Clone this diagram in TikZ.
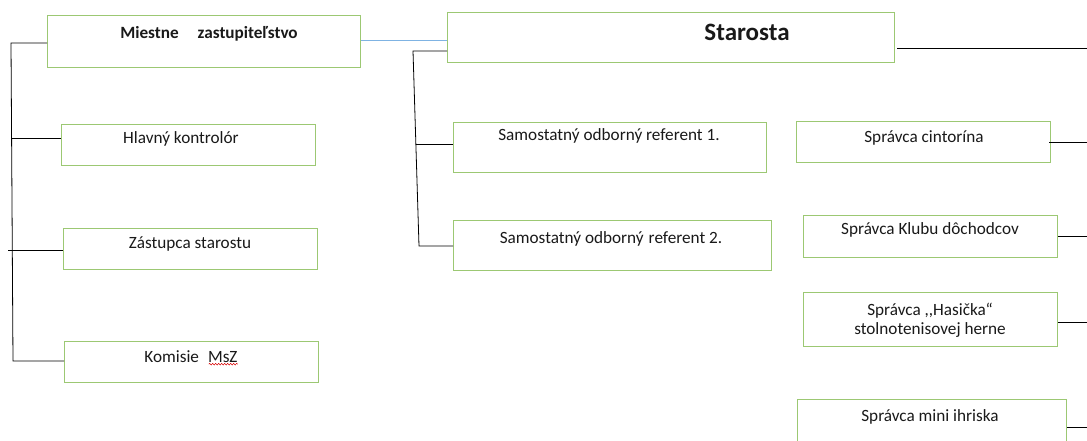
\documentclass[tikz,border=0pt]{standalone}
\usepackage{fontspec}
\setmainfont{Carlito}
\usetikzlibrary{decorations.pathmorphing}
\definecolor{boxgreen}{HTML}{9CC873}
\definecolor{linkblue}{HTML}{7FB3E3}
\begin{document}
\begin{tikzpicture}[x=1pt,y=-1pt,
  box/.style={draw=boxgreen,line width=1pt,anchor=north west,inner sep=0pt},
  lbl/.style={inner sep=0pt,font=\fontsize{17.2}{20}\selectfont,text=black!90},
  con/.style={draw=black,line width=0.8pt}]
\useasboundingbox (0,0) rectangle (1087,441);
% boxes
\node[box,minimum width=313pt,minimum height=52pt] (mz) at (47,15) {};
\node[box,minimum width=447pt,minimum height=50pt] (st) at (447,12) {};
\node[box,minimum width=254pt,minimum height=41pt] (hk) at (61,124) {};
\node[box,minimum width=254pt,minimum height=41pt] (zs) at (63,228) {};
\node[box,minimum width=254pt,minimum height=41pt] (km) at (64,341) {};
\node[box,minimum width=313pt,minimum height=50pt] (r1) at (453,122) {};
\node[box,minimum width=318pt,minimum height=50pt] (r2) at (453,220) {};
\node[box,minimum width=254pt,minimum height=41pt] (sc) at (796,121) {};
\node[box,minimum width=254pt,minimum height=42pt] (sk) at (803,215) {};
\node[box,minimum width=254pt,minimum height=54pt] (sh) at (803,292) {};
\node[box,minimum width=269pt,minimum height=70pt] (sm) at (797,399) {};
% texts
\node[lbl,font=\bfseries\fontsize{17.2}{20}\selectfont] (tmz) at (209,34) {Miestne\hspace{19pt}zastupiteľstvo};
\node[lbl,font=\bfseries\fontsize{25}{30}\selectfont] (tst) at (747,32) {Starosta};
\node[lbl] (thk) at (181,139) {Hlavný kontrolór};
\node[lbl] (tzs) at (190,244) {Zástupca starostu};
\node[lbl] (tkm) at (191,357) {Komisie\hspace{9pt}MsZ};
\node[lbl] (tr1) at (609,136) {Samostatný odborný referent 1.};
\node[lbl] (tr2) at (611,239) {Samostatný odborný\hspace{5pt}referent 2.};
\node[lbl] (tsc) at (924,138) {Správca cintorína};
\node[lbl] (tsk) at (930,230) {Správca Klubu dôchodcov};
\node[lbl,align=center,font=\fontsize{17.2}{19}\selectfont] (tsh) at (930,320) {Správca {,}{,}Hasička“\\stolnotenisovej herne};
\node[lbl] (tsm) at (930,417) {Správca mini ihriska};
% spell-check squiggle under MsZ
\draw[red!85!black,line width=0.5pt,decorate,decoration={snake,amplitude=0.8pt,segment length=3pt}]
  ([xshift=-29pt,yshift=-1pt]tkm.south east) -- ([yshift=-1pt]tkm.south east);
% left tree
\coordinate (lt) at (11,43);
\coordinate (lb) at (13,361);
\coordinate (lh) at (12,138);
\coordinate (lz) at (8,250);
\draw[con] (mz.west |- lt) -- (lt) -- (lb) -- (km.west |- lb);
\draw[con] (lh) -- (hk.west |- lh);
\draw[con] (lz) -- (zs.west |- lz);
% link
\draw[draw=linkblue,line width=0.9pt] ([yshift=1pt]mz.east) -- ([yshift=1pt]mz.east -| st.west);
% Starosta tree
\coordinate (st1) at (413,51);
\coordinate (st2) at (419,246);
\coordinate (st3) at (416,144);
\draw[con] (st.west |- st1) -- (st1) -- (st2) -- (r2.west |- st2);
\draw[con] (st3) -- (r1.west |- st3);
% right stubs
\coordinate (re0) at (1087,48);
\coordinate (re1) at (1087,142);
\coordinate (re2) at (1087,236);
\coordinate (re3) at (1087,322);
\coordinate (re4) at (1087,427);
\draw[con] ([xshift=2pt]st.east |- re0) -- (re0);
\draw[con] ([xshift=-2pt]sc.east |- re1) -- (re1);
\draw[con] (sk.east |- re2) -- (re2);
\draw[con] (sh.east |- re3) -- (re3);
\draw[con] (sm.east |- re4) -- (re4);
\end{tikzpicture}
\end{document}
